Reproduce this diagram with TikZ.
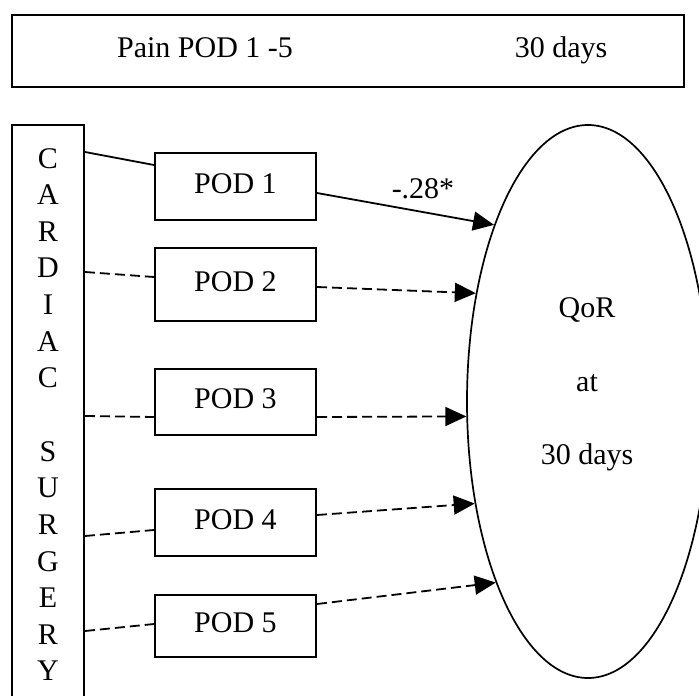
\documentclass[tikz,border=0pt]{standalone}
\usepackage{fontspec}
\setmainfont{Liberation Serif}
\usetikzlibrary{calc}
\usetikzlibrary{arrows.meta}
\usetikzlibrary{shapes.geometric}

\tikzset{
	framebox/.style={draw, line width=2pt, inner sep=0pt},
	podbox/.style={framebox, minimum width=161pt, minimum height=67pt, text height=20pt, text depth=7pt},
	solidlink/.style={line width=1.8pt},
	dashlink/.style={line width=1.8pt, dash pattern=on 10pt off 5pt},
	headarrow/.style={-{Triangle[length=21pt,width=19pt]}}
}

\begin{document}
\begin{tikzpicture}[x=1pt,y=-1pt,font=\fontsize{30}{36.6}\selectfont]
	\useasboundingbox (0,0) rectangle (699,696);
	\clip (0,0) rectangle (699,696);

	% title bar
	\node[framebox, minimum width=672pt, minimum height=72pt] (painbox) at (348,51) {};
	\node[anchor=base] (paintext) at (205,57) {Pain POD 1 -5};
	\node[anchor=base] (daystext) at (561,57) {30 days};

	% left column
	\node[framebox, minimum width=72pt, minimum height=615pt] (surgery) at (48,432.5) {};
	\foreach \k/\ch in {0/C,1/A,2/R,3/D,4/I,5/A,6/C,8/S,9/U,10/R,11/G,12/E,13/R,14/Y}
		\node[anchor=base] (letter\k) at (48,{168+36.64*\k}) {\ch};

	% POD boxes
	\node[podbox] (pod1) at (235.5,186.5) {POD 1};
	\node[podbox, minimum height=73pt] (pod2) at (235.5,284.5) {POD 2};
	\node[podbox, minimum height=66pt] (pod3) at (235.5,402) {POD 3};
	\node[podbox] (pod4) at (235.5,522.5) {POD 4};
	\node[podbox, minimum height=62pt] (pod5) at (235.5,626) {POD 5};

	% outcome
	\node[draw, ellipse, line width=1.7pt, minimum width=242pt, minimum height=553pt, inner sep=0pt] (qor) at (588,401.5) {};
	\node[anchor=base] (qorline1) at (587,317) {QoR};
	\node[anchor=base] (qorline2) at (587,391) {at};
	\node[anchor=base] (qorline3) at (587,464) {30 days};

	% surgery -> POD
	\draw[solidlink] ($(surgery.north east)+(0,28)$) -- ($(pod1.west)+(0,-21.5)$);
	\draw[dashlink] ($(surgery.north east)+(0,148)$) -- ($(pod2.west)+(0,-7.5)$);
	\draw[dashlink] ($(surgery.north east)+(0,292)$) -- ($(pod3.west)+(0,15)$);
	\draw[dashlink] ($(surgery.north east)+(0,412)$) -- ($(pod4.west)+(0,7.5)$);
	\draw[dashlink] ($(surgery.north east)+(0,507)$) -- ($(pod5.west)+(0,-2)$);

	% POD -> QoR
	\draw[solidlink, headarrow] ($(pod1.east)+(0,6.5)$) -- (qor.118.5);
	\node[anchor=base] (coef) at (423,198) {-.28*};
	\draw[dashlink, headarrow] ($(pod2.east)+(0,2.5)$) -- (qor.136.7);
	\draw[dashlink, headarrow] ($(pod3.east)+(0,15)$) -- (qor.187.3);
	\draw[dashlink, headarrow] ($(pod4.east)+(0,-7.5)$) -- (qor.222.4);
	\draw[dashlink, headarrow] ($(pod5.east)+(0,-22)$) -- (qor.243.7);
\end{tikzpicture}
\end{document}
